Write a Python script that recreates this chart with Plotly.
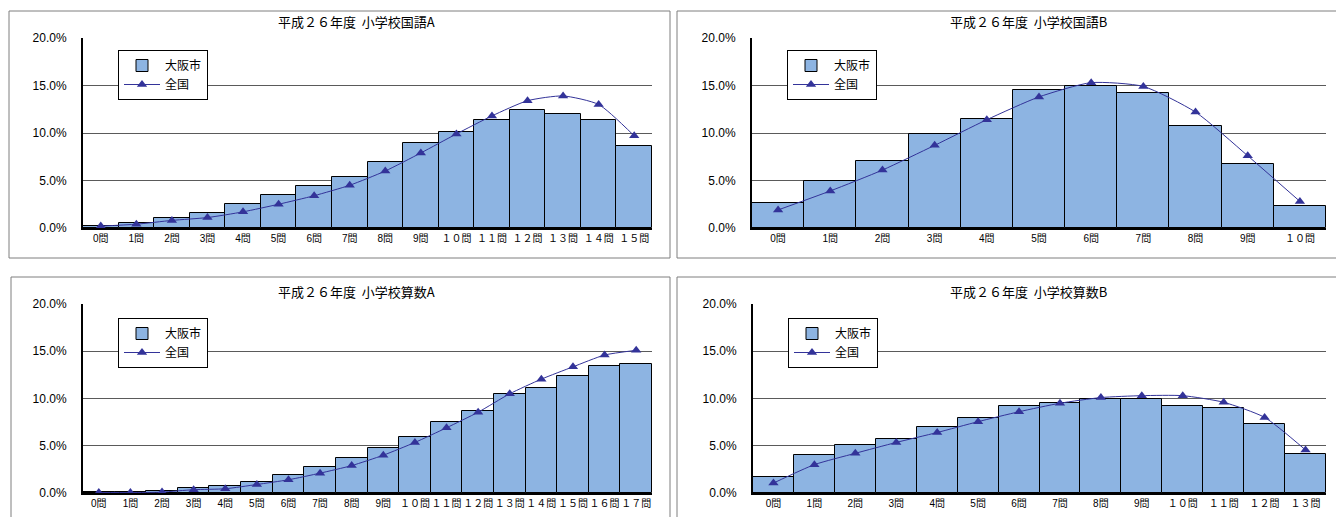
import plotly.graph_objects as go

W, H = 1336, 517

# 正答数分布（％）: 大阪市 (bars) と 全国 (line)
kokugo_a_labels = ["0問", "1問", "2問", "3問", "4問", "5問", "6問", "7問", "8問", "9問",
                   "１０問", "１１問", "１２問", "１３問", "１４問", "１５問"]
kokugo_a_osaka = [0.2, 0.5, 1.1, 1.6, 2.5, 3.5, 4.4, 5.4, 6.9, 8.9,
                  10.1, 11.4, 12.4, 12.0, 11.4, 8.6]
kokugo_a_zenkoku = [0.2, 0.4, 0.8, 1.1, 1.7, 2.5, 3.4, 4.5, 6.0, 7.9,
                    9.9, 11.8, 13.4, 13.9, 13.0, 9.7]

kokugo_b_labels = ["0問", "1問", "2問", "3問", "4問", "5問", "6問", "7問", "8問", "9問", "１０問"]
kokugo_b_osaka = [2.6, 5.0, 7.1, 9.9, 11.5, 14.5, 15.0, 14.2, 10.7, 6.7, 2.3]
kokugo_b_zenkoku = [1.9, 3.9, 6.1, 8.7, 11.4, 13.8, 15.3, 14.9, 12.2, 7.6, 2.8]

sansu_a_labels = ["0問", "1問", "2問", "3問", "4問", "5問", "6問", "7問", "8問", "9問",
                  "１０問", "１１問", "１２問", "１３問", "１４問", "１５問", "１６問", "１７問"]
sansu_a_osaka = [0.1, 0.1, 0.2, 0.5, 0.7, 1.2, 1.95, 2.8, 3.7, 4.75,
                 5.9, 7.5, 8.7, 10.5, 11.15, 12.4, 13.45, 13.6]
sansu_a_zenkoku = [0.05, 0.05, 0.1, 0.35, 0.45, 0.9, 1.4, 2.1, 2.9, 4.0,
                   5.35, 6.9, 8.55, 10.5, 12.05, 13.35, 14.6, 15.1]

sansu_b_labels = ["0問", "1問", "2問", "3問", "4問", "5問", "6問", "7問", "8問", "9問",
                  "１０問", "１１問", "１２問", "１３問"]
sansu_b_osaka = [1.7, 4.0, 5.05, 5.75, 7.0, 7.95, 9.25, 9.55, 9.9, 9.95,
                 9.25, 9.0, 7.3, 4.15]
sansu_b_zenkoku = [1.05, 3.0, 4.2, 5.35, 6.4, 7.55, 8.6, 9.5, 10.1, 10.3,
                   10.3, 9.6, 8.0, 4.55]

titles = ["平成２６年度  小学校国語A", "平成２６年度  小学校国語B",
          "平成２６年度  小学校算数A", "平成２６年度  小学校算数B"]

BAR_FILL = "#8db4e2"
LINE_COLOR = "#333399"
GRID = "#5a5a5a"
FONT_JP = "Noto Sans CJK JP"
FONT_NUM = "Liberation Sans, Arial, Noto Sans CJK JP"


def px_x(x):
    return x / W


def px_y(y):
    return 1 - y / H


# panel layout in pixels: plot area, frame box, title centre, legend corner
panels = [
    dict(labels=kokugo_a_labels, osaka=kokugo_a_osaka, zenkoku=kokugo_a_zenkoku,
         plot=(83, 652, 38, 228), frame=(9, 670, 11, 258), title=(356, 22), legend=(118, 50)),
    dict(labels=kokugo_b_labels, osaka=kokugo_b_osaka, zenkoku=kokugo_b_zenkoku,
         plot=(752, 1326, 38, 228), frame=(677, 1345, 11, 258), title=(1028, 22), legend=(787, 50)),
    dict(labels=sansu_a_labels, osaka=sansu_a_osaka, zenkoku=sansu_a_zenkoku,
         plot=(83, 652, 304, 493), frame=(11, 670, 277, 530), title=(356, 291), legend=(118, 318)),
    dict(labels=sansu_b_labels, osaka=sansu_b_osaka, zenkoku=sansu_b_zenkoku,
         plot=(753, 1326, 304, 493), frame=(677, 1345, 277, 530), title=(1028, 291), legend=(788, 318)),
]

fig = go.Figure()
layout = dict(
    width=W, height=H,
    margin=dict(l=0, r=0, t=0, b=0, autoexpand=False),
    paper_bgcolor="white", plot_bgcolor="white",
    bargap=0,
    shapes=[], annotations=[],
)

for i, p in enumerate(panels, start=1):
    sfx = "" if i == 1 else str(i)
    leg = "legend" if i == 1 else f"legend{i}"
    x0, x1, y0, y1 = p["plot"]

    fig.add_trace(go.Bar(
        x=p["labels"], y=[v / 100 for v in p["osaka"]], name="大阪市",
        marker=dict(color=BAR_FILL, line=dict(color="black", width=1)),
        xaxis=f"x{sfx}", yaxis=f"y{sfx}", legend=leg,
    ))
    fig.add_trace(go.Scatter(
        x=p["labels"], y=[v / 100 for v in p["zenkoku"]], name="全国",
        mode="lines+markers",
        line=dict(color=LINE_COLOR, width=1, shape="spline", smoothing=0.6),
        marker=dict(symbol="triangle-up", size=9, color=LINE_COLOR),
        xaxis=f"x{sfx}", yaxis=f"y{sfx}", legend=leg,
    ))

    layout[f"xaxis{sfx}"] = dict(
        domain=[px_x(x0), px_x(x1)], anchor=f"y{sfx}", automargin=False,
        type="category", range=[-0.5, len(p["labels"]) - 0.5],
        showline=True, linecolor="black", linewidth=2,
        showgrid=False, ticks="", tickangle=0,
        tickfont=dict(family=FONT_NUM, size=10, color="black"),
    )
    layout[f"yaxis{sfx}"] = dict(
        domain=[px_y(y1), px_y(y0)], anchor=f"x{sfx}", automargin=False,
        range=[0, 0.2], dtick=0.05, tickformat=".1%",
        showline=True, linecolor="black", linewidth=2,
        showgrid=True, gridcolor=GRID, gridwidth=1,
        zeroline=False, ticks="", ticklabelstandoff=12,
        tickfont=dict(family=FONT_NUM, size=12, color="black"),
    )

    lx, ly = p["legend"]
    layout[leg] = dict(
        x=px_x(lx), y=px_y(ly), xanchor="left", yanchor="top",
        bgcolor="white", bordercolor="black", borderwidth=1,
        font=dict(family=FONT_JP, size=12, color="black"),
        tracegroupgap=0, itemwidth=36, traceorder="normal",
    )

    fx0, fx1, fy0, fy1 = p["frame"]
    layout["shapes"].append(dict(
        type="rect", xref="paper", yref="paper",
        x0=px_x(fx0), x1=px_x(fx1), y0=px_y(fy1), y1=px_y(fy0),
        line=dict(color="#7f7f7f", width=1), fillcolor="rgba(0,0,0,0)", layer="below",
    ))

    tx, ty = p["title"]
    layout["annotations"].append(dict(
        text=titles[i - 1], xref="paper", yref="paper",
        x=px_x(tx), y=px_y(ty), xanchor="center", yanchor="middle",
        showarrow=False, font=dict(family=FONT_JP, size=13, color="black"),
    ))

fig.update_layout(**layout)
fig.write_html("out.html")
